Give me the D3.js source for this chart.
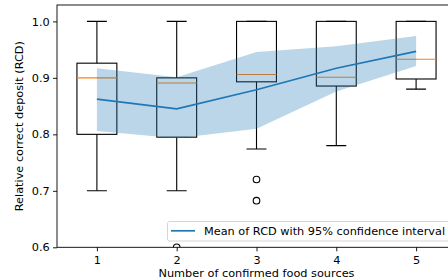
<!DOCTYPE html>
<html>
<head>
<meta charset="utf-8">
<script src="https://cdn.jsdelivr.net/npm/d3@7"></script>
<style>
  body { margin: 0; background: #fff; }
  svg { display: block; font-family: "DejaVu Sans", sans-serif; }
</style>
</head>
<body>
<div id="chart"></div>
<script>
// number of confirmed food sources
var categories = [1, 2, 3, 4, 5];

// box plot stats of RCD per category
var whiskerLow  = [0.700, 0.700, 0.774, 0.780, 0.880];
var q1          = [0.800, 0.795, 0.893, 0.8855, 0.898];
var median      = [0.900, 0.891, 0.906, 0.901, 0.933];
var q3          = [0.926, 0.900, 1.000, 1.000, 1.000];
var whiskerHigh = [1.000, 1.000, 1.000, 1.000, 1.000];
var outliers    = [[], [0.600], [0.720, 0.6825], [], []];

// mean line and 95% confidence interval
var meanRCD = [0.8625, 0.845, 0.879, 0.917, 0.947];
var ciLow   = [0.806, 0.793, 0.810, 0.876, 0.921];
var ciHigh  = [0.917, 0.901, 0.946, 0.956, 0.974];

var yTicks = [0.6, 0.7, 0.8, 0.9, 1.0];

var W = 448, H = 279;
var axLeft = 57, axRight = 456, axTop = 5, axBottom = 247.3;
var fontSize = '11.3px';
var lw = 1.1;

var x = d3.scaleLinear().domain([0.5, 5.5]).range([axLeft, axRight]);
var y = d3.scaleLinear().domain([0.6, 1.029]).range([axBottom, axTop]);

var svg = d3.select('#chart').append('svg')
  .attr('width', W).attr('height', H);

svg.append('clipPath').attr('id', 'plot-clip')
  .append('rect')
  .attr('x', axLeft).attr('y', axTop)
  .attr('width', axRight - axLeft).attr('height', axBottom - axTop);

var plot = svg.append('g').attr('clip-path', 'url(#plot-clip)');

var boxW = x(1.25) - x(1);   // half box width
var capW = x(1.125) - x(1);  // half cap width

categories.forEach(function (c, i) {
  var cx = x(c);
  var g = plot.append('g');

  // whiskers
  g.append('line')
    .attr('x1', cx).attr('x2', cx)
    .attr('y1', y(q1[i])).attr('y2', y(whiskerLow[i]))
    .attr('stroke', '#000').attr('stroke-width', lw);
  g.append('line')
    .attr('x1', cx).attr('x2', cx)
    .attr('y1', y(q3[i])).attr('y2', y(whiskerHigh[i]))
    .attr('stroke', '#000').attr('stroke-width', lw);

  // caps
  [whiskerLow[i], whiskerHigh[i]].forEach(function (v) {
    g.append('line')
      .attr('x1', cx - capW).attr('x2', cx + capW)
      .attr('y1', y(v)).attr('y2', y(v))
      .attr('stroke', '#000').attr('stroke-width', lw);
  });

  // box
  g.append('rect')
    .attr('x', cx - boxW).attr('y', y(q3[i]))
    .attr('width', boxW * 2).attr('height', y(q1[i]) - y(q3[i]))
    .attr('fill', 'none').attr('stroke', '#000').attr('stroke-width', lw);

  // median
  g.append('line')
    .attr('x1', cx - boxW).attr('x2', cx + boxW)
    .attr('y1', y(median[i])).attr('y2', y(median[i]))
    .attr('stroke', '#ff7f0e').attr('stroke-width', lw);

  // fliers
  outliers[i].forEach(function (v) {
    g.append('circle')
      .attr('cx', cx).attr('cy', y(v)).attr('r', 3.3)
      .attr('fill', 'none').attr('stroke', '#000').attr('stroke-width', lw);
  });
});

// confidence band
var area = d3.area()
  .x(function (d, i) { return x(categories[i]); })
  .y0(function (d, i) { return y(ciLow[i]); })
  .y1(function (d, i) { return y(ciHigh[i]); });

plot.append('path')
  .datum(categories)
  .attr('d', area)
  .attr('fill', '#1f77b4')
  .attr('fill-opacity', 0.3);

// mean line
var line = d3.line()
  .x(function (d, i) { return x(categories[i]); })
  .y(function (d) { return y(d); });

plot.append('path')
  .datum(meanRCD)
  .attr('d', line)
  .attr('fill', 'none')
  .attr('stroke', '#1f77b4')
  .attr('stroke-width', 1.7);

// axes
var xAxis = d3.axisBottom(x)
  .tickValues(categories)
  .tickFormat(d3.format('d'))
  .tickSize(4).tickPadding(4.7)
  .tickSizeOuter(0);

var yAxis = d3.axisLeft(y)
  .tickValues(yTicks)
  .tickFormat(d3.format('.1f'))
  .tickSize(4).tickPadding(3.2)
  .tickSizeOuter(0);

var gx = svg.append('g')
  .attr('transform', 'translate(0,' + axBottom + ')')
  .call(xAxis);
var gy = svg.append('g')
  .attr('transform', 'translate(' + axLeft + ',0)')
  .call(yAxis);

[gx, gy].forEach(function (g) {
  g.select('.domain').remove();
  g.selectAll('.tick line').attr('stroke', '#000').attr('stroke-width', 0.9);
  g.selectAll('.tick text')
    .attr('fill', '#000')
    .style('font-size', fontSize)
    .style('font-family', '"DejaVu Sans", sans-serif');
});

// spines
svg.append('rect')
  .attr('x', axLeft).attr('y', axTop)
  .attr('width', axRight - axLeft).attr('height', axBottom - axTop)
  .attr('fill', 'none').attr('stroke', '#000').attr('stroke-width', 0.9);

// axis labels
svg.append('text')
  .attr('x', (axLeft + axRight) / 2).attr('y', 276.5)
  .attr('text-anchor', 'middle')
  .style('font-size', fontSize)
  .text('Number of confirmed food sources');

svg.append('text')
  .attr('transform', 'translate(23,' + (axTop + axBottom) / 2 + ') rotate(-90)')
  .attr('text-anchor', 'middle')
  .style('font-size', fontSize)
  .text('Relative correct deposit (RCD)');

// legend
var lg = svg.append('g');
lg.append('rect')
  .attr('x', 167.5).attr('y', 221.5)
  .attr('width', 300).attr('height', 19.5)
  .attr('rx', 2)
  .attr('fill', '#fff').attr('fill-opacity', 0.8)
  .attr('stroke', '#d0d0d0').attr('stroke-width', 0.9);
lg.append('line')
  .attr('x1', 171).attr('x2', 195)
  .attr('y1', 230.8).attr('y2', 230.8)
  .attr('stroke', '#1f77b4').attr('stroke-width', 1.7);
lg.append('text')
  .attr('x', 204).attr('y', 235)
  .style('font-size', fontSize)
  .text('Mean of RCD with 95% confidence interval');
</script>
</body>
</html>
